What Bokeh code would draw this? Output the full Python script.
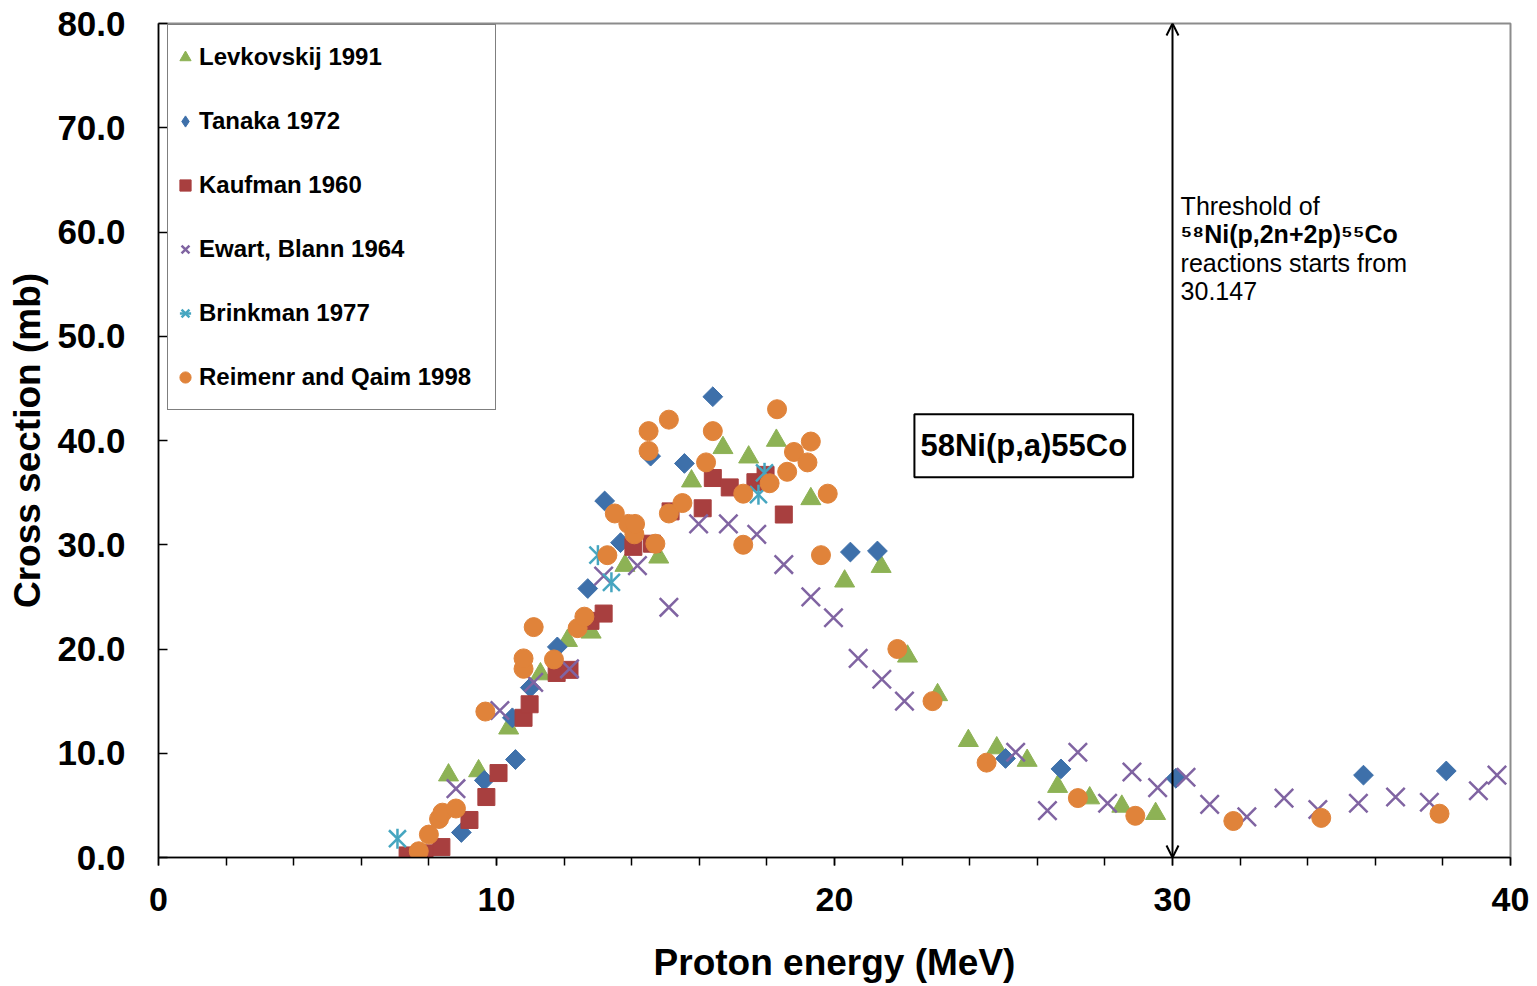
from bokeh.plotting import figure
from bokeh.models import (Range1d, SingleIntervalTicker, NumeralTickFormatter, Legend,
                          LegendItem, Label, Arrow, OpenHead)
from bokeh.embed import file_html
from bokeh.resources import INLINE
import math

FONT = "Liberation Sans"

# ---------------- data ----------------
lev_x = [8.58, 9.47, 10.36, 11.3, 12.1, 12.8, 13.8, 14.8, 15.77, 16.7, 17.46, 18.28, 19.3, 20.3,
         21.38, 22.16, 23.05, 23.96, 24.8, 25.7, 26.6, 27.55, 28.5, 29.5]
lev_y = [7.9, 8.3, 12.4, 17.6, 20.8, 21.6, 28.0, 28.8, 36.1, 39.3, 38.4, 40.0, 34.4, 26.5,
         27.9, 19.3, 15.6, 11.2, 10.5, 9.3, 6.8, 5.7, 4.9, 4.2]

tan_x = [8.96, 9.64, 10.47, 10.56, 11.0, 11.8, 12.7, 13.2, 13.67, 14.56, 15.56, 16.4, 20.47,
         21.27, 25.06, 26.7, 30.1, 35.65, 38.1]
tan_y = [2.4, 7.4, 13.4, 9.4, 16.3, 20.2, 25.8, 34.2, 30.2, 38.5, 37.8, 44.2, 29.3,
         29.4, 9.5, 8.5, 7.6, 7.9, 8.3]

kau_x = [7.37, 7.87, 8.37, 9.2, 9.7, 10.06, 10.8, 10.98, 11.78, 12.16, 12.78, 13.17, 14.05,
         14.6, 15.15, 16.1, 16.4, 16.9, 17.66, 17.96, 18.5]
kau_y = [0.2, 0.4, 1.0, 3.6, 5.8, 8.1, 13.4, 14.7, 17.7, 18.0, 22.7, 23.4, 29.8,
         30.1, 33.2, 33.5, 36.4, 35.5, 36.0, 36.7, 32.9]

ewa_x = [8.8, 10.1, 11.1, 12.16, 13.17, 14.17, 15.1, 15.98, 16.86, 17.7, 18.5, 19.3, 19.97,
         20.7, 21.4, 22.07, 25.36, 26.3, 27.2, 28.08, 28.8, 29.56, 30.4, 31.1, 32.2, 33.3,
         34.3, 35.5, 36.6, 37.6, 39.05, 39.6]
ewa_y = [6.6, 14.1, 16.8, 18.1, 27.0, 28.0, 24.0, 32.0, 32.0, 31.0, 28.1, 25.0, 23.0,
         19.1, 17.1, 15.0, 10.1, 4.5, 10.1, 5.2, 8.2, 6.7, 7.7, 5.1, 3.9, 5.7,
         4.6, 5.2, 5.8, 5.3, 6.4, 7.9]

bri_x = [7.07, 13.0, 13.4, 17.75, 17.93]
bri_y = [1.8, 29.0, 26.4, 34.8, 36.9]

rei_x = [7.7, 8.0, 8.3, 8.4, 8.8, 9.67, 10.8, 10.8, 11.1, 11.7, 12.4, 12.6, 13.28, 13.5, 13.9,
         14.08, 14.1, 14.5, 14.5, 14.7, 15.1, 15.1, 15.5, 16.2, 16.4, 17.3, 17.3, 18.08, 18.3,
         18.6, 18.8, 19.2, 19.3, 19.6, 19.8, 21.86, 22.9, 24.5, 27.2, 28.9, 31.8, 34.4, 37.9]
rei_y = [0.6, 2.2, 3.7, 4.3, 4.7, 14.0, 18.1, 19.1, 22.1, 19.0, 22.0, 23.1, 29.0, 33.0, 32.0,
         31.0, 32.0, 39.0, 40.9, 30.1, 42.0, 33.0, 34.0, 37.9, 40.9, 30.0, 34.9, 35.9, 43.0,
         37.0, 38.9, 37.9, 39.9, 29.0, 34.9, 20.0, 15.0, 9.1, 5.7, 4.0, 3.5, 3.8, 4.2]

series_names = ["Levkovskij 1991", "Tanaka 1972", "Kaufman 1960", "Ewart, Blann 1964",
                "Brinkman 1977", "Reimenr and Qaim 1998"]
threshold = 30.0
threshold_lines = ["Threshold of", "\u2075\u2078Ni(p,2n+2p)\u2075\u2075Co",
                   "reactions starts from", "30.147"]
reaction_label = "58Ni(p,a)55Co"

# ---------------- figure ----------------
p = figure(frame_width=1352, frame_height=834, x_range=Range1d(0, 40), y_range=Range1d(0, 80),
           output_backend="svg", toolbar_location=None,
           min_border_left=158, min_border_right=27, min_border_top=23, min_border_bottom=129)
p.xgrid.visible = False
p.ygrid.visible = False
p.outline_line_color = "#8c8c8c"
p.outline_line_width = 2
p.background_fill_color = "white"
p.border_fill_color = "white"

xa = p.xaxis[0]
xa.ticker = SingleIntervalTicker(interval=10, num_minor_ticks=5)
xa.major_tick_in = 0
xa.major_tick_out = 8
xa.minor_tick_in = 0
xa.minor_tick_out = 8
xa.axis_line_color = "black"
xa.axis_line_width = 1.5
xa.major_tick_line_width = 1.5
xa.minor_tick_line_width = 1.5
xa.major_label_text_font = FONT
xa.major_label_text_font_style = "bold"
xa.major_label_text_font_size = "34px"
xa.major_label_text_color = "black"
xa.major_label_standoff = 22
xa.axis_label = "Proton energy (MeV)"
xa.axis_label_text_font = FONT
xa.axis_label_text_font_style = "bold"
xa.axis_label_text_font_size = "37px"
xa.axis_label_text_color = "black"
xa.axis_label_standoff = 28

ya = p.yaxis[0]
ya.ticker = SingleIntervalTicker(interval=10, num_minor_ticks=0)
ya.formatter = NumeralTickFormatter(format="0.0")
ya.major_tick_in = 9
ya.major_tick_out = 0
ya.minor_tick_in = 0
ya.minor_tick_out = 0
ya.axis_line_color = "black"
ya.axis_line_width = 1.5
ya.major_tick_line_width = 1.5
ya.major_label_text_font = FONT
ya.major_label_text_font_style = "bold"
ya.major_label_text_font_size = "35px"
ya.major_label_text_color = "black"
ya.major_label_standoff = 33
ya.axis_label = "Cross section (mb)"
ya.axis_label_text_font = FONT
ya.axis_label_text_font_style = "bold"
ya.axis_label_text_font_size = "37px"
ya.axis_label_text_color = "black"
ya.axis_label_standoff = 6

# ---------------- series ----------------
c_lev = "#8DB255"
c_tan = "#3E70AA"
c_kau = "#A83F3F"
c_ewa = "#8064A2"
c_bri = "#46A6C0"
c_rei = "#E0833A"

r_lev = p.scatter(lev_x, lev_y, marker="triangle", size=20, fill_color=c_lev, line_color=c_lev)
# small diamonds underneath (fully covered) serve as the legend glyph for Tanaka
r_tan_leg = p.scatter(tan_x, tan_y, marker="diamond", size=10, fill_color=c_tan, line_color=c_tan)
r_tan = p.scatter(tan_x, tan_y, marker="square", angle=math.pi / 4, size=14,
                  fill_color=c_tan, line_color=c_tan)
r_kau = p.scatter(kau_x, kau_y, marker="square", size=17, fill_color=c_kau, line_color=c_kau)
r_ewa = p.scatter(ewa_x, ewa_y, marker="x", size=26, line_color=c_ewa, line_width=2.5)
r_bri1 = p.scatter(bri_x, bri_y, marker="x", size=24, line_color=c_bri, line_width=2.5)
r_bri2 = p.scatter(bri_x, bri_y, marker="dash", angle=math.pi / 2, size=20, line_color=c_bri,
                   line_width=2.5)
r_rei = p.scatter(rei_x, rei_y, marker="circle", size=19, fill_color=c_rei, line_color=c_rei)

items = [
    LegendItem(label=series_names[0], renderers=[r_lev]),
    LegendItem(label=series_names[1], renderers=[r_tan_leg]),
    LegendItem(label=series_names[2], renderers=[r_kau]),
    LegendItem(label=series_names[3], renderers=[r_ewa]),
    LegendItem(label=series_names[4], renderers=[r_bri1, r_bri2]),
    LegendItem(label=series_names[5], renderers=[r_rei]),
]
leg = Legend(items=items, location=(9, 447), padding=3, margin=0, spacing=6,
             glyph_width=28, glyph_height=58, label_standoff=0, label_width=293,
             label_text_font=FONT, label_text_font_style="bold", label_text_font_size="24px",
             label_text_color="black",
             border_line_color="black", border_line_width=1, background_fill_color="white",
             background_fill_alpha=1)
p.add_layout(leg)

# ---------------- annotations ----------------
p.add_layout(Arrow(start=OpenHead(size=12, line_width=2), end=OpenHead(size=12, line_width=2),
                   x_start=threshold, y_start=0, x_end=threshold, y_end=80, line_width=2,
                   line_color="black"))

ty = [62.5, 59.85, 57.07, 54.3]
for i, t in enumerate(threshold_lines):
    p.add_layout(Label(x=30.24, y=ty[i], text=t, text_font=FONT, text_font_size="25px",
                       text_baseline="middle", text_align="left",
                       text_font_style="bold" if i == 1 else "normal", text_color="black"))

p.add_layout(Label(x=25.6, y=39.5, text=reaction_label, text_font=FONT, text_font_size="31px",
                   text_font_style="bold", text_align="center", text_baseline="middle",
                   text_color="black",
                   border_line_color="black", border_line_width=2,
                   background_fill_color="white", padding=(6, 14)))

open("out.html", "w").write(file_html(p, INLINE))
